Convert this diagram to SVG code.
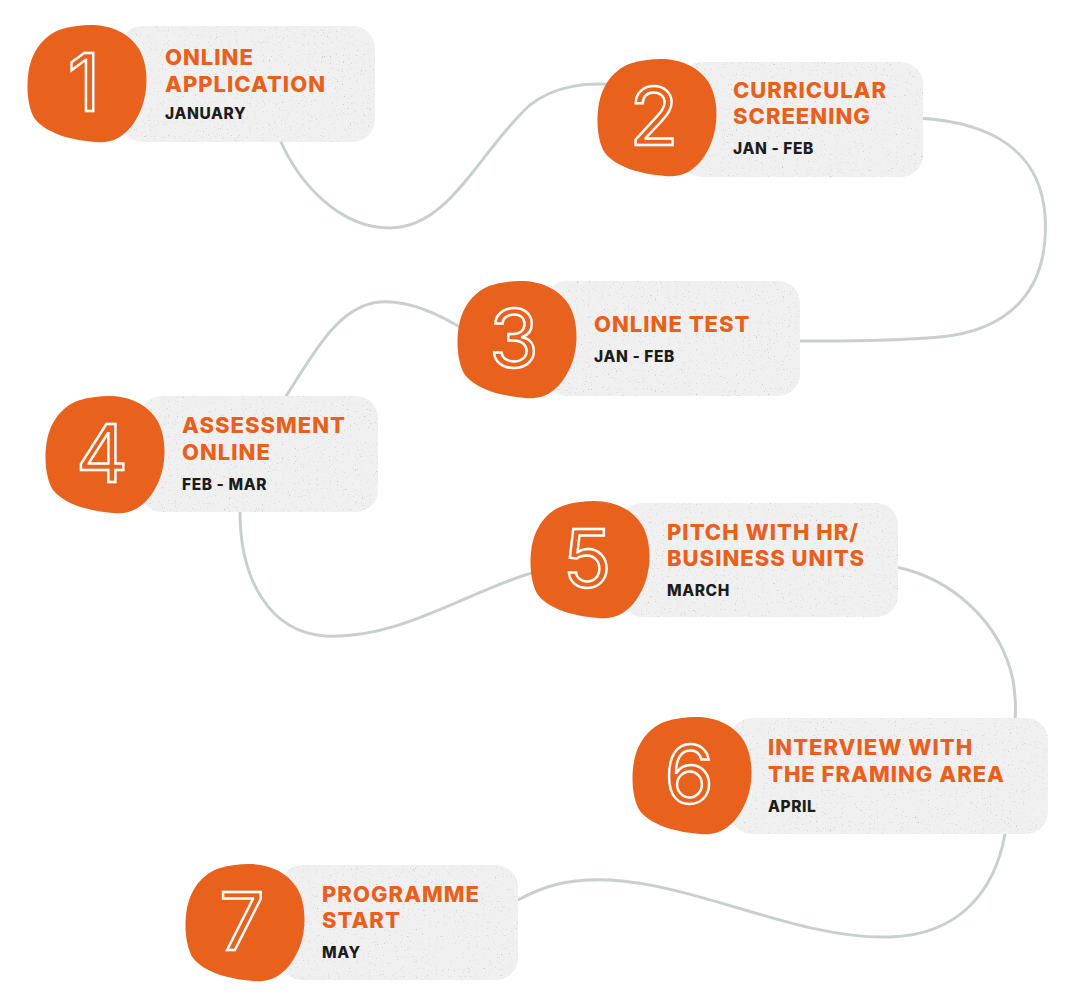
<svg xmlns="http://www.w3.org/2000/svg" width="1080" height="997" viewBox="0 0 1080 997">
<defs>
<style>
.card{fill:#f0f0f0;filter:url(#grain);}
.blob{fill:#e8621d;}
.num{font-family:Inter,"Open Sans",sans-serif;font-size:80px;font-weight:400;fill:none;stroke:#ffffff;stroke-width:2.4;text-anchor:middle;}
.title{font-family:Inter,"Open Sans",sans-serif;font-size:22px;font-weight:800;fill:#e8601c;letter-spacing:1px;}
.sub{font-family:Inter,"Open Sans",sans-serif;font-size:15.5px;font-weight:800;fill:#1c1c1c;letter-spacing:0.6px;}
.conn{fill:none;stroke:#c9cfcf;stroke-width:3;stroke-linecap:round;}
</style>
<filter id="grain" x="0" y="0" width="100%" height="100%">
<feTurbulence type="fractalNoise" baseFrequency="0.85" numOctaves="2" seed="4" result="n"/>
<feColorMatrix in="n" type="matrix" values="0 0 0 0 0.45  0 0 0 0 0.45  0 0 0 0 0.45  3.5 0 0 0 -2.3" result="sp"/>
<feComposite in="sp" in2="SourceGraphic" operator="in" result="spc"/>
<feMerge><feMergeNode in="SourceGraphic"/><feMergeNode in="spc"/></feMerge>
</filter>
<path id="blobShape" d="M -10,-58 C 15,-62 40,-55 52,-35 C 62,-18 62,10 52,30 C 42,50 28,60 8,58 C -15,56 -40,50 -52,35 C -62,20 -62,-15 -52,-32 C -42,-50 -28,-56 -10,-58 Z"/>
</defs>
<rect width="1080" height="997" fill="#ffffff"/>
<g id="connectors">
<path class="conn" d="M280,140 C300,185 340,228 390,228 C450,228 480,150 530,105 C555,85 590,82 615,85"/>
<path class="conn" d="M918,118 C990,122 1040,150 1045,215 C1050,290 1010,330 940,337 C880,342 830,341 800,341"/>
<path class="conn" d="M465,330 C440,315 410,300 380,302 C340,305 315,350 285,398"/>
<path class="conn" d="M240,512 C240,580 270,632 325,636 C400,640 470,590 535,572"/>
<path class="conn" d="M896,567 C950,578 1000,620 1013,680 C1016,700 1016,710 1015,720"/>
<path class="conn" d="M1005,834 C995,890 960,935 890,937 C800,940 700,885 610,880 C565,878 540,888 518,900"/>
</g>
<g id="node1">
<rect class="card" x="120" y="26" width="255" height="116" rx="22"/>
<use href="#blobShape" class="blob" transform="translate(87,84)"/>
<text class="num" x="84" y="111">1</text>
<text class="title" x="165" y="65">ONLINE</text>
<text class="title" x="165" y="92">APPLICATION</text>
<text class="sub" x="165" y="119">JANUARY</text>
</g>
<g id="node2">
<rect class="card" x="680" y="62" width="243" height="115" rx="22"/>
<use href="#blobShape" class="blob" transform="translate(657,118)"/>
<text class="num" x="654" y="145">2</text>
<text class="title" x="733" y="98">CURRICULAR</text>
<text class="title" x="733" y="124">SCREENING</text>
<text class="sub" x="733" y="154">JAN - FEB</text>
</g>
<g id="node3">
<rect class="card" x="545" y="281" width="255" height="115" rx="22"/>
<use href="#blobShape" class="blob" transform="translate(517,340)"/>
<text class="num" x="514" y="367">3</text>
<text class="title" x="594" y="332">ONLINE TEST</text>
<text class="sub" x="594" y="362">JAN - FEB</text>
</g>
<g id="node4">
<rect class="card" x="140" y="396" width="238" height="116" rx="22"/>
<use href="#blobShape" class="blob" transform="translate(105,455)"/>
<text class="num" x="102" y="482">4</text>
<text class="title" x="182" y="433">ASSESSMENT</text>
<text class="title" x="182" y="460">ONLINE</text>
<text class="sub" x="182" y="490">FEB - MAR</text>
</g>
<g id="node5">
<rect class="card" x="620" y="503" width="278" height="114" rx="22"/>
<use href="#blobShape" class="blob" transform="translate(590,560)"/>
<text class="num" x="587" y="587">5</text>
<text class="title" x="667" y="540">PITCH WITH HR/</text>
<text class="title" x="667" y="566">BUSINESS UNITS</text>
<text class="sub" x="667" y="596">MARCH</text>
</g>
<g id="node6">
<rect class="card" x="730" y="718" width="318" height="116" rx="22"/>
<use href="#blobShape" class="blob" transform="translate(692,776)"/>
<text class="num" x="689" y="803">6</text>
<text class="title" x="768" y="755">INTERVIEW WITH</text>
<text class="title" x="768" y="782">THE FRAMING AREA</text>
<text class="sub" x="768" y="812">APRIL</text>
</g>
<g id="node7">
<rect class="card" x="280" y="865" width="238" height="115" rx="22"/>
<use href="#blobShape" class="blob" transform="translate(245,923)"/>
<text class="num" x="242" y="950">7</text>
<text class="title" x="322" y="902">PROGRAMME</text>
<text class="title" x="322" y="928">START</text>
<text class="sub" x="322" y="958">MAY</text>
</g>
</svg>
